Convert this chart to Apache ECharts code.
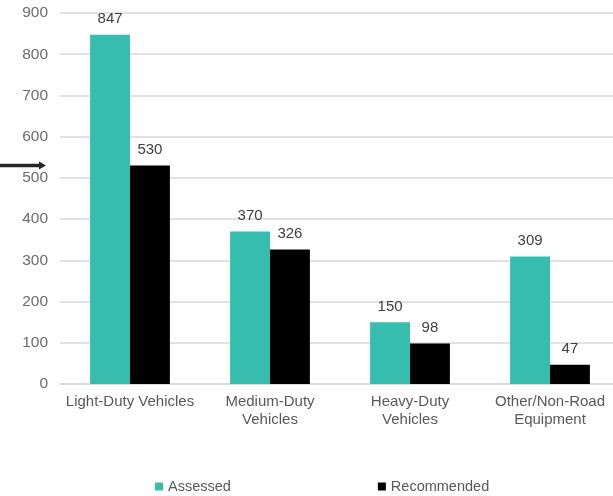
<!DOCTYPE html>
<html><head><meta charset="utf-8">
<script src="https://cdn.jsdelivr.net/npm/echarts@6/dist/echarts.min.js"></script>
<style>html,body{margin:0;padding:0;background:#fff;overflow:hidden}#c{width:620px;height:496px}</style>
</head><body><div id="c"></div>
<script>
const categories = ['Light-Duty Vehicles', 'Medium-Duty\nVehicles', 'Heavy-Duty\nVehicles', 'Other/Non-Road\nEquipment'];
const assessed = [847, 370, 150, 309];
const recommended = [530, 326, 98, 47];
const arrowValue = 530;

const chart = echarts.init(document.getElementById('c'));
const font = 'Liberation Sans, Arial, sans-serif';
chart.setOption({
  animation: false,
  grid: { left: 60, top: 13, right: 0, bottom: 112, containLabel: false },
  legend: {
    top: 474, left: 150, itemGap: 147, itemWidth: 8, itemHeight: 8,
    icon: 'rect',
    textStyle: { color: '#595959', fontSize: 14.5, fontFamily: font },
    data: ['Assessed', 'Recommended']
  },
  xAxis: {
    type: 'category', data: categories,
    axisLine: { lineStyle: { color: '#d9d9d9', width: 2 } },
    axisTick: { show: false },
    axisLabel: { color: '#595959', fontSize: 15, fontFamily: font, lineHeight: 18, margin: 9, interval: 0 }
  },
  yAxis: {
    type: 'value', min: 0, max: 900, interval: 100,
    axisLine: { show: false }, axisTick: { show: false },
    splitLine: { lineStyle: { color: '#d9d9d9', width: 1.5 } },
    axisLabel: { color: '#6b6b6b', fontSize: 15.5, fontFamily: font, margin: 12 }
  },
  series: [
    { name: 'Assessed', type: 'bar', data: assessed, barGap: '0%', barCategoryGap: '43%',
      itemStyle: { color: '#36bdad' },
      label: { show: true, position: 'top', color: '#404040', fontSize: 15, fontFamily: font, distance: 8 } },
    { name: 'Recommended', type: 'bar', data: recommended,
      itemStyle: { color: '#000000' },
      label: { show: true, position: 'top', color: '#404040', fontSize: 15, fontFamily: font, distance: 8 } }
  ]
});
const y = chart.convertToPixel({ yAxisIndex: 0 }, arrowValue);
chart.setOption({
  graphic: [
    { type: 'line', shape: { x1: 0, y1: y, x2: 40, y2: y }, style: { stroke: '#262626', lineWidth: 3.5 } },
    { type: 'polygon', shape: { points: [[39, y - 4], [46, y], [39, y + 4]] }, style: { fill: '#262626' } }
  ]
});
</script></body></html>
